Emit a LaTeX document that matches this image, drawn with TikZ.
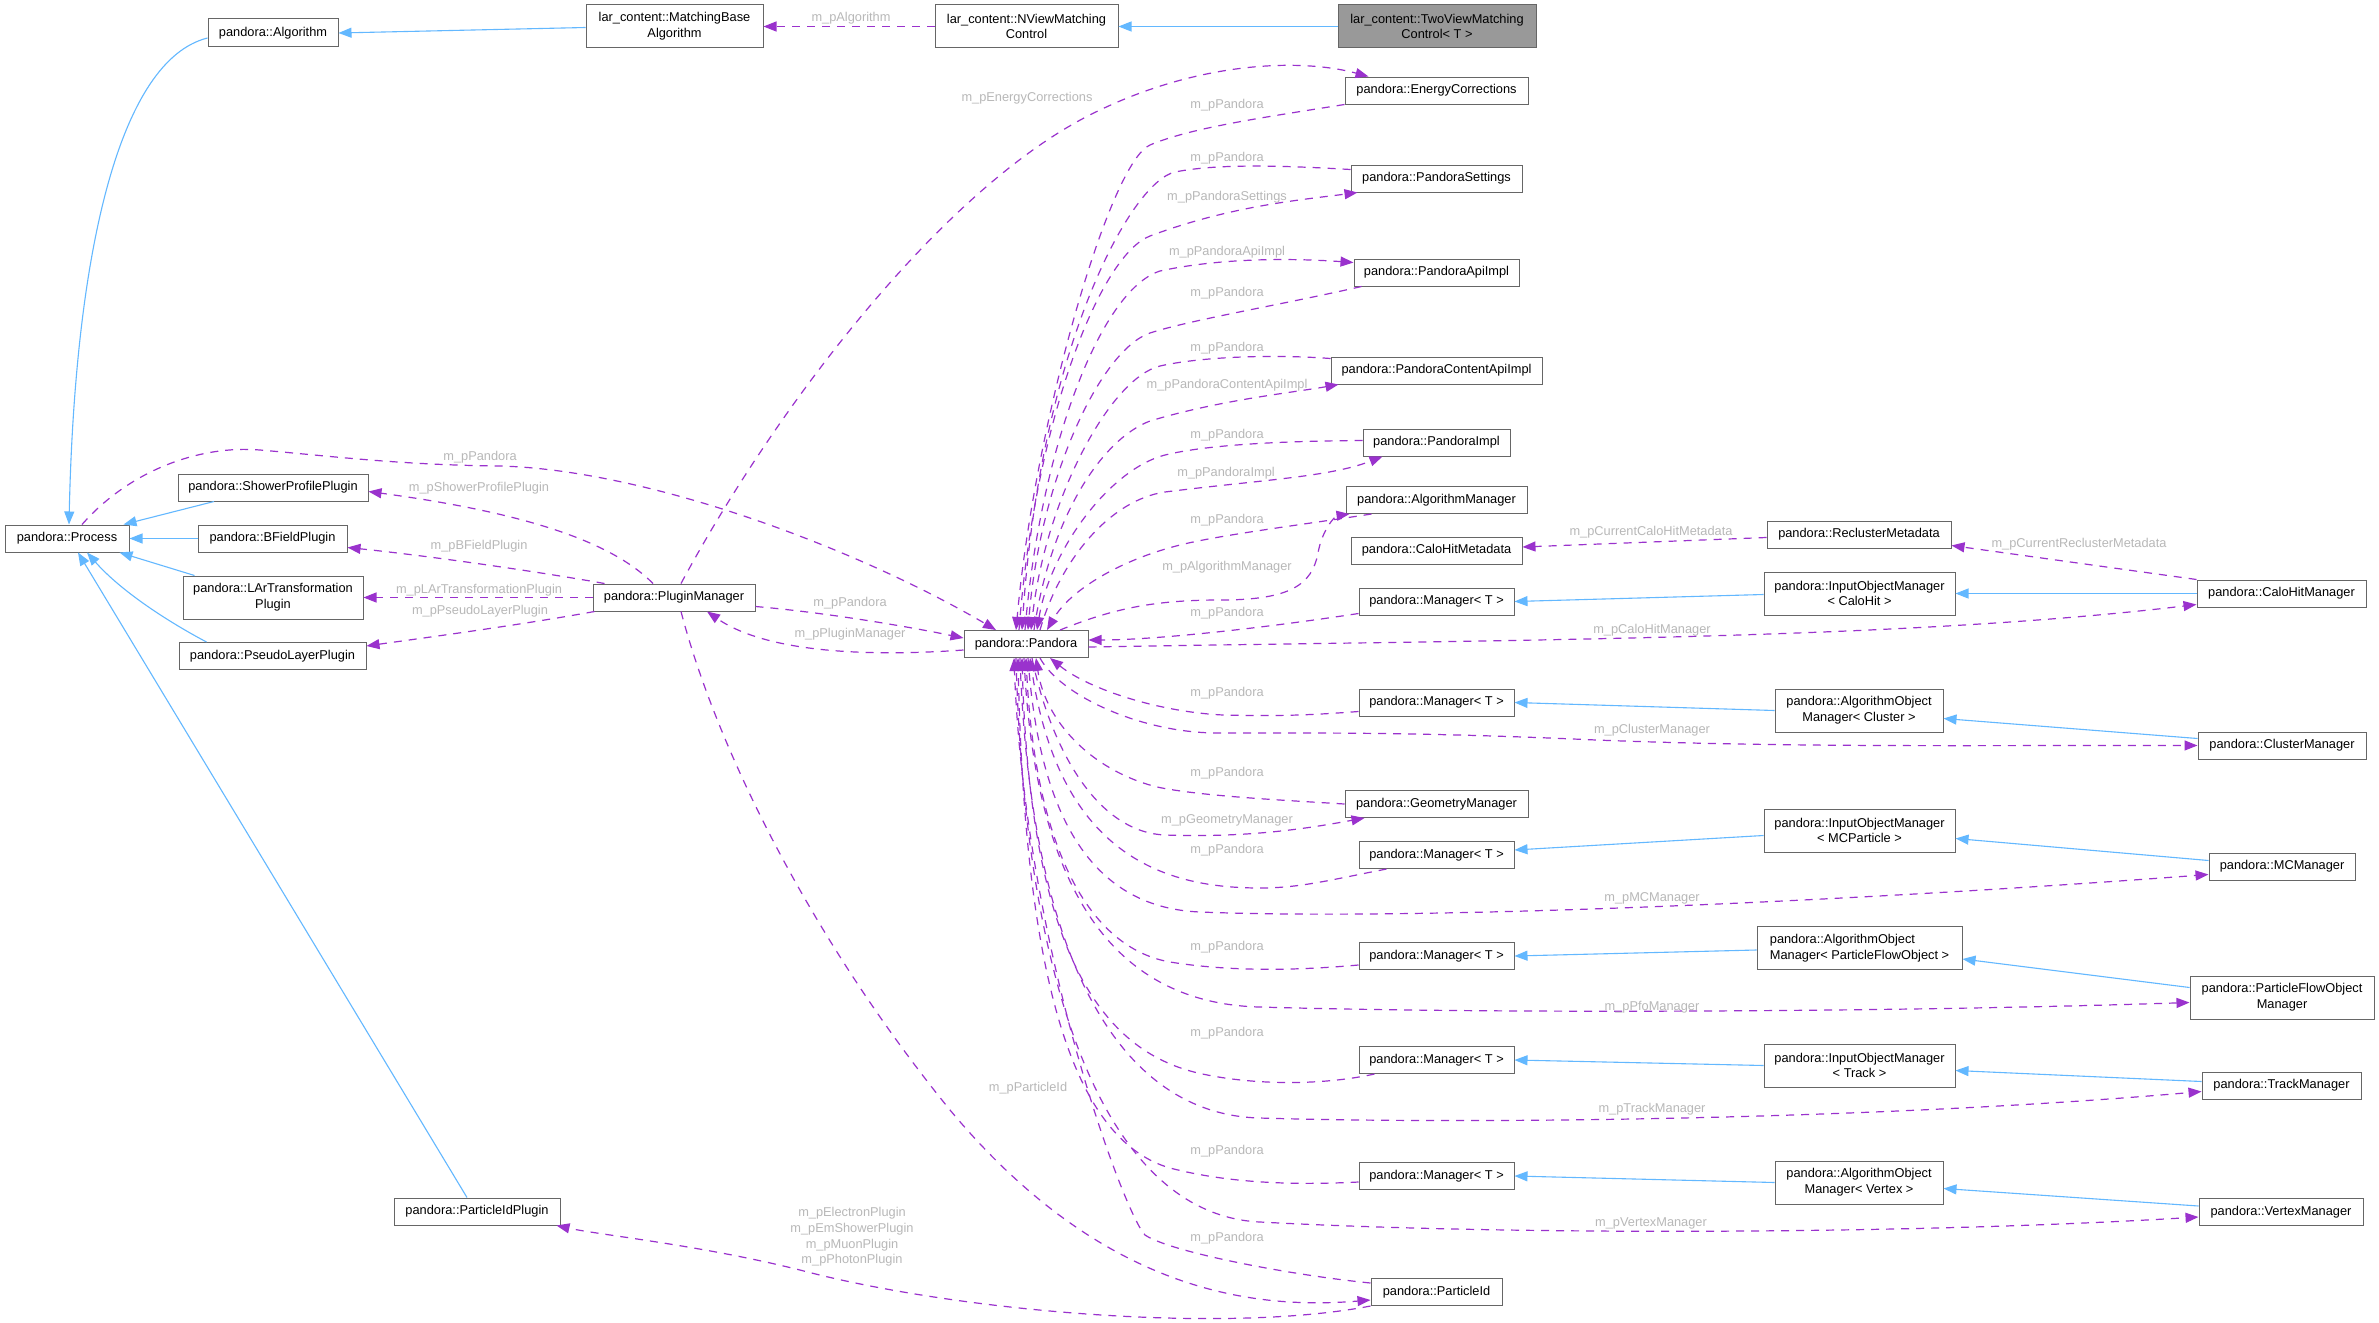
\documentclass[tikz,border=0pt]{standalone}
\usepackage{fontspec}
\setmainfont{Liberation Sans}
\usetikzlibrary{arrows.meta}
\definecolor{edgeblue}{HTML}{63B8FF}
\definecolor{edgepurple}{HTML}{9A32CD}
\definecolor{boxline}{HTML}{666666}
\definecolor{lblgray}{HTML}{B8B8B8}
\definecolor{hlfill}{HTML}{999999}
\newcommand{\dxfont}{\fontsize{12.8pt}{15.7pt}\selectfont}
\tikzset{
  box/.style={draw=boxline, line width=1pt, fill=white, inner sep=0pt, minimum height=27pt, font=\dxfont, align=center},
  inh/.style={draw=edgeblue, line width=1.1pt, -{Triangle[length=13pt,width=10pt]}},
  use/.style={draw=edgepurple, line width=1.2pt, dash pattern=on 8pt off 7pt, -{Triangle[length=13pt,width=10pt]}},
  lbl/.style={text=lblgray, font=\dxfont, inner sep=0pt, align=center},
}
\begin{document}
\begin{tikzpicture}[x=1pt,y=-1pt]
\fill[white] (0,0) rectangle (2379,1322);
\useasboundingbox (0,0) rectangle (2379,1322);

% ---------- nodes ----------
\node[box, minimum width=130pt, minimum height=28pt] (alg) at (273,33) {pandora::Algorithm};
\node[box, minimum width=177pt, minimum height=43pt] (mba) at (674.5,26.5) {lar\_content::MatchingBase\\Algorithm};
\node[box, minimum width=183pt, minimum height=43pt] (nview) at (1026.5,26.5) {lar\_content::NViewMatching\\Control};
\node[box, fill=hlfill, minimum width=198pt, minimum height=43pt] (twoview) at (1437,26.5) {lar\_content::TwoViewMatching\\Control< T >};

\node[box, minimum width=183pt] (ec) at (1436.5,90.5) {pandora::EnergyCorrections};
\node[box, minimum width=171pt] (ps) at (1436.5,178.5) {pandora::PandoraSettings};
\node[box, minimum width=165pt] (pai) at (1436.5,272.5) {pandora::PandoraApiImpl};
\node[box, minimum width=211pt] (pcai) at (1436.5,370.5) {pandora::PandoraContentApiImpl};
\node[box, minimum width=147pt] (pimpl) at (1436.5,442.5) {pandora::PandoraImpl};
\node[box, minimum width=181pt] (am) at (1436.5,500) {pandora::AlgorithmManager};
\node[box, minimum width=171pt] (chmeta) at (1436.5,550.5) {pandora::CaloHitMetadata};
\node[box, minimum width=155pt] (m1) at (1436.5,601.5) {pandora::Manager< T >};
\node[box, minimum width=124pt] (pandora) at (1026,644) {pandora::Pandora};
\node[box, minimum width=155pt] (m2) at (1436.5,702.5) {pandora::Manager< T >};
\node[box, minimum width=183pt] (gm) at (1436.5,804) {pandora::GeometryManager};
\node[box, minimum width=155pt] (m3) at (1436.5,855) {pandora::Manager< T >};
\node[box, minimum width=155pt] (m4) at (1436.5,956) {pandora::Manager< T >};
\node[box, minimum width=155pt] (m5) at (1436.5,1060) {pandora::Manager< T >};
\node[box, minimum width=155pt] (m6) at (1436.5,1176) {pandora::Manager< T >};
\node[box, minimum width=131pt] (pid) at (1436.5,1292) {pandora::ParticleId};

\node[box, minimum width=124pt] (process) at (67,538.5) {pandora::Process};
\node[box, minimum width=190pt] (spp) at (273,487.5) {pandora::ShowerProfilePlugin};
\node[box, minimum width=149pt] (bfp) at (272.5,538.5) {pandora::BFieldPlugin};
\node[box, minimum width=180pt, minimum height=43pt] (lart) at (273,597.5) {pandora::LArTransformation\\Plugin};
\node[box, minimum width=187pt] (plp) at (272.5,656) {pandora::PseudoLayerPlugin};
\node[box, minimum width=162pt] (pm) at (674,597.5) {pandora::PluginManager};
\node[box, minimum width=166pt] (pidp) at (477,1211.5) {pandora::ParticleIdPlugin};

\node[box, minimum width=184pt] (rm) at (1859,534.5) {pandora::ReclusterMetadata};
\node[box, minimum width=191pt, minimum height=43pt] (iomch) at (1859.5,593.5) {pandora::InputObjectManager\\< CaloHit >};
\node[box, minimum width=169pt] (chm) at (2281.5,593.5) {pandora::CaloHitManager};
\node[box, minimum width=168pt, minimum height=43pt] (aomc) at (1859,710.5) {pandora::AlgorithmObject\\Manager< Cluster >};
\node[box, minimum width=168pt] (cm) at (2282,745.5) {pandora::ClusterManager};
\node[box, minimum width=191pt, minimum height=43pt] (iommc) at (1859.5,830.5) {pandora::InputObjectManager\\< MCParticle >};
\node[box, minimum width=146pt] (mcm) at (2282,866.5) {pandora::MCManager};
\node[box, minimum width=205pt, minimum height=43pt, align=left] (aompfo) at (1859.5,948) {pandora::AlgorithmObject\\Manager< ParticleFlowObject >};
\node[box, minimum width=184pt, minimum height=43pt] (pfom) at (2282,997.5) {pandora::ParticleFlowObject\\Manager};
\node[box, minimum width=191pt, minimum height=43pt] (iomt) at (1859.5,1065.5) {pandora::InputObjectManager\\< Track >};
\node[box, minimum width=159pt] (tm) at (2281.5,1085.5) {pandora::TrackManager};
\node[box, minimum width=168pt, minimum height=43pt] (aomv) at (1859,1182.5) {pandora::AlgorithmObject\\Manager< Vertex >};
\node[box, minimum width=164pt] (vm) at (2281,1212) {pandora::VertexManager};

% ---------- inheritance ----------
\draw[inh] ([yshift=-1pt]mba.west) -- (alg.east);
\draw[inh] ([yshift=-5pt]alg.west) .. controls (120,60) and (75,250) .. ([xshift=2pt]process.north);
\draw[inh] (twoview.west) -- (nview.east);
\draw[inh] ([xshift=-59pt]spp.south) -- ([xshift=-6pt]process.north east);
\draw[inh] (bfp.west) -- (process.east);
\draw[inh] ([xshift=12pt]lart.north west) -- ([xshift=-10pt]process.south east);
\draw[inh] ([xshift=-66pt]plp.north) .. controls (165,620) and (120,590) .. ([xshift=20pt]process.south);
\draw[inh] ([xshift=-10pt]pidp.north) -- ([xshift=11pt]process.south);
\draw[inh] ([yshift=-1pt]iomch.west) -- (m1.east);
\draw[inh] (chm.west) -- (iomch.east);
\draw[inh] (aomc.west) -- (m2.east);
\draw[inh] ([yshift=7pt]cm.west) -- ([yshift=-8pt]aomc.east);
\draw[inh] ([yshift=-5pt]iommc.west) -- ([yshift=5pt]m3.east);
\draw[inh] ([yshift=6pt]mcm.west) -- ([yshift=-8pt]iommc.east);
\draw[inh] ([yshift=-2pt]aompfo.west) -- (m4.east);
\draw[inh] ([yshift=10pt]pfom.west) -- ([yshift=-11pt]aompfo.east);
\draw[inh] (iomt.west) -- (m5.east);
\draw[inh] ([yshift=4pt]tm.west) -- ([yshift=-5pt]iomt.east);
\draw[inh] (aomv.west) -- (m6.east);
\draw[inh] ([yshift=6pt]vm.west) -- ([yshift=-6pt]aomv.east);

% ---------- usage: left part ----------
\draw[use] (nview.west) -- (mba.east) node[lbl] at (851,18) {m\_pAlgorithm};
\draw[use] ([xshift=15pt]process.north) .. controls (130,470) and (200,445) .. (260,450) .. controls (330,456) and (400,465) .. (500,466) .. controls (650,470) and (860,550) .. ([xshift=-30pt]pandora.north) node[lbl] at (480,457) {m\_pPandora};
\draw[use] ([yshift=-9pt]pm.east) .. controls (820,612) and (900,625) .. ([yshift=6pt]pandora.west) node[lbl] at (850,603) {m\_pPandora};
\draw[use] ([yshift=-6pt]pandora.west) .. controls (880,656) and (770,655) .. ([xshift=33pt]pm.south) node[lbl] at (850,634) {m\_pPluginManager};
\draw[use] ([xshift=7pt]pm.north) .. controls (780,400) and (950,180) .. (1100,110) .. controls (1200,62) and (1300,58) .. ([xshift=24pt]ec.north west) node[lbl] at (1027,98) {m\_pEnergyCorrections};
\draw[use] ([xshift=-21pt]pm.north) .. controls (610,540) and (520,512) .. ([yshift=-4pt]spp.east) node[lbl] at (479,488) {m\_pShowerProfilePlugin};
\draw[use] ([xshift=12pt]pm.north west) .. controls (540,572) and (430,556) .. ([yshift=-9pt]bfp.east) node[lbl] at (479,546) {m\_pBFieldPlugin};
\draw[use] (pm.west) -- (lart.east) node[lbl] at (479,590) {m\_pLArTransformationPlugin};
\draw[use] ([xshift=2pt]pm.south west) .. controls (520,625) and (430,637) .. ([yshift=10pt]plp.east) node[lbl] at (480,611) {m\_pPseudoLayerPlugin};
\draw[use] ([xshift=7pt]pm.south) .. controls (720,760) and (820,950) .. (950,1110) .. controls (1100,1290) and (1250,1310) .. ([yshift=-8pt]pid.west) node[lbl] at (1028,1088) {m\_pParticleId};
\draw[use] (pid.south west) .. controls (1220,1335) and (950,1310) .. (800,1270) .. controls (700,1245) and (600,1235) .. ([xshift=-4pt]pidp.south east) node[lbl] at (852,1237) {m\_pElectronPlugin\\m\_pEmShowerPlugin\\m\_pMuonPlugin\\m\_pPhotonPlugin};

% ---------- usage: above Pandora ----------
\draw[use] (ec.south west) .. controls (1260,118) and (1190,128) .. (1150,145) .. controls (1110,162) and (1035,420) .. ([xshift=-10pt]pandora.north) node[lbl] at (1227,105) {m\_pPandora};
\draw[use] ([xshift=-7pt]pandora.north) .. controls (1035,420) and (1100,255) .. (1150,236) .. controls (1230,206) and (1300,200) .. ([xshift=7pt]ps.south west) node[lbl] at (1227,197) {m\_pPandoraSettings};
\draw[use] ([yshift=9pt]ps.west) .. controls (1290,166) and (1220,163) .. (1175,172) .. controls (1130,182) and (1040,350) .. ([xshift=-4pt]pandora.north) node[lbl] at (1227,158) {m\_pPandora};
\draw[use] ([xshift=-1pt]pandora.north) .. controls (1040,450) and (1100,290) .. (1160,271) .. controls (1220,258) and (1290,258) .. ([yshift=10pt]pai.west) node[lbl] at (1227,252) {m\_pPandoraApiImpl};
\draw[use] ([xshift=8pt]pai.south west) .. controls (1280,305) and (1190,320) .. (1150,333) .. controls (1100,350) and (1040,480) .. ([xshift=2pt]pandora.north) node[lbl] at (1227,293) {m\_pPandora};
\draw[use] ([yshift=12pt]pcai.west) .. controls (1270,354) and (1200,357) .. (1160,366) .. controls (1110,378) and (1045,500) .. ([xshift=5pt]pandora.north) node[lbl] at (1227,348) {m\_pPandora};
\draw[use] ([xshift=8pt]pandora.north) .. controls (1050,520) and (1100,440) .. (1150,421) .. controls (1220,400) and (1290,393) .. ([xshift=8pt]pcai.south west) node[lbl] at (1227,385) {m\_pPandoraContentApiImpl};
\draw[use] ([yshift=2pt]pimpl.west) .. controls (1290,441) and (1210,444) .. (1165,455) .. controls (1110,469) and (1050,550) .. ([xshift=11pt]pandora.north) node[lbl] at (1227,435) {m\_pPandora};
\draw[use] ([xshift=14pt]pandora.north) .. controls (1060,560) and (1110,500) .. (1165,492) .. controls (1260,480) and (1330,477) .. ([xshift=20pt]pimpl.south west) node[lbl] at (1226,473) {m\_pPandoraImpl};
\draw[use] ([xshift=26pt]am.south west) .. controls (1300,525) and (1220,535) .. (1180,545) .. controls (1120,560) and (1070,590) .. ([xshift=21pt]pandora.north) node[lbl] at (1227,520) {m\_pPandora};
\draw[use] ([xshift=34pt]pandora.north) .. controls (1110,610) and (1150,600) .. (1220,600) .. controls (1290,600) and (1312,585) .. (1318,553) .. controls (1322,530) and (1335,516) .. ([xshift=4pt]am.south west) node[lbl] at (1227,567) {m\_pAlgorithmManager};
\draw[use] ([yshift=2pt]m1.south west) .. controls (1250,630) and (1150,640) .. ([yshift=4pt]pandora.east) node[lbl] at (1227,613) {m\_pPandora};

% ---------- usage: right side ----------
\draw[use] ([yshift=-3pt]pandora.east) .. controls (1500,640) and (1900,640) .. ([yshift=-11pt]chm.west) node[lbl] at (1652,630) {m\_pCaloHitManager};
\draw[use] ([yshift=-3pt]rm.west) -- ([yshift=3.5pt]chmeta.east) node[lbl] at (1651,532) {m\_pCurrentCaloHitMetadata};
\draw[use] (chm.north west) -- ([yshift=-11pt]rm.east) node[lbl] at (2079,544) {m\_pCurrentReclusterMetadata};

% ---------- usage: below Pandora ----------
\draw[use] ([yshift=-9pt]m2.west) .. controls (1300,716) and (1270,716) .. (1223,715) .. controls (1160,712) and (1090,690) .. ([xshift=24pt]pandora.south) node[lbl] at (1227,693) {m\_pPandora};
\draw[use] ([xshift=14pt]pandora.south) .. controls (1060,695) and (1140,733) .. (1218,733) .. controls (1320,733) and (1420,732) .. (1596,740) .. controls (1800,748) and (2000,745) .. (cm.west) node[lbl] at (1652,730) {m\_pClusterManager};
\draw[use] (gm.west) .. controls (1280,800) and (1200,796) .. (1157,787) .. controls (1090,770) and (1045,720) .. ([xshift=10pt]pandora.south) node[lbl] at (1227,773) {m\_pPandora};
\draw[use] ([xshift=6pt]pandora.south) .. controls (1050,745) and (1095,832) .. (1165,835) .. controls (1250,838) and (1310,828) .. ([xshift=20pt]gm.south west) node[lbl] at (1227,820) {m\_pGeometryManager};
\draw[use] ([xshift=28pt]m3.south west) .. controls (1330,880) and (1300,888) .. (1260,888) .. controls (1170,888) and (1060,860) .. ([xshift=4pt]pandora.south) node[lbl] at (1227,850) {m\_pPandora};
\draw[use] ([xshift=2pt]pandora.south) .. controls (1040,830) and (1100,908) .. (1200,912) .. controls (1400,920) and (1800,905) .. ([yshift=-8pt]mcm.west) node[lbl] at (1652,898) {m\_pMCManager};
\draw[use] ([yshift=-9pt]m4.west) .. controls (1280,972) and (1220,970) .. (1170,962) .. controls (1090,948) and (1035,850) .. (pandora.south) node[lbl] at (1227,947) {m\_pPandora};
\draw[use] ([xshift=-2pt]pandora.south) .. controls (1035,900) and (1120,1003) .. (1259,1007) .. controls (1500,1014) and (1900,1012) .. ([yshift=-5pt]pfom.west) node[lbl] at (1652,1007) {m\_pPfoManager};
\draw[use] ([xshift=16pt]m5.south west) .. controls (1320,1086) and (1250,1085) .. (1198,1073) .. controls (1100,1050) and (1030,950) .. ([xshift=-4pt]pandora.south) node[lbl] at (1227,1033) {m\_pPandora};
\draw[use] ([xshift=-6pt]pandora.south) .. controls (1030,960) and (1120,1114) .. (1259,1118) .. controls (1500,1125) and (1900,1118) .. ([yshift=-6pt]tm.west) node[lbl] at (1652,1109) {m\_pTrackManager};
\draw[use] ([yshift=-6pt]m6.west) .. controls (1280,1186) and (1220,1181) .. (1170,1168) .. controls (1080,1142) and (1025,1000) .. ([xshift=-8pt]pandora.south) node[lbl] at (1227,1151) {m\_pPandora};
\draw[use] ([xshift=-10pt]pandora.south) .. controls (1025,1000) and (1110,1215) .. (1260,1222) .. controls (1500,1235) and (1900,1235) .. ([yshift=-5pt]vm.west) node[lbl] at (1651,1223) {m\_pVertexManager};
\draw[use] ([yshift=9pt]pid.west) .. controls (1290,1275) and (1170,1252) .. (1145,1235) .. controls (1125,1215) and (1025,950) .. ([xshift=-12pt]pandora.south) node[lbl] at (1227,1238) {m\_pPandora};
\end{tikzpicture}
\end{document}
